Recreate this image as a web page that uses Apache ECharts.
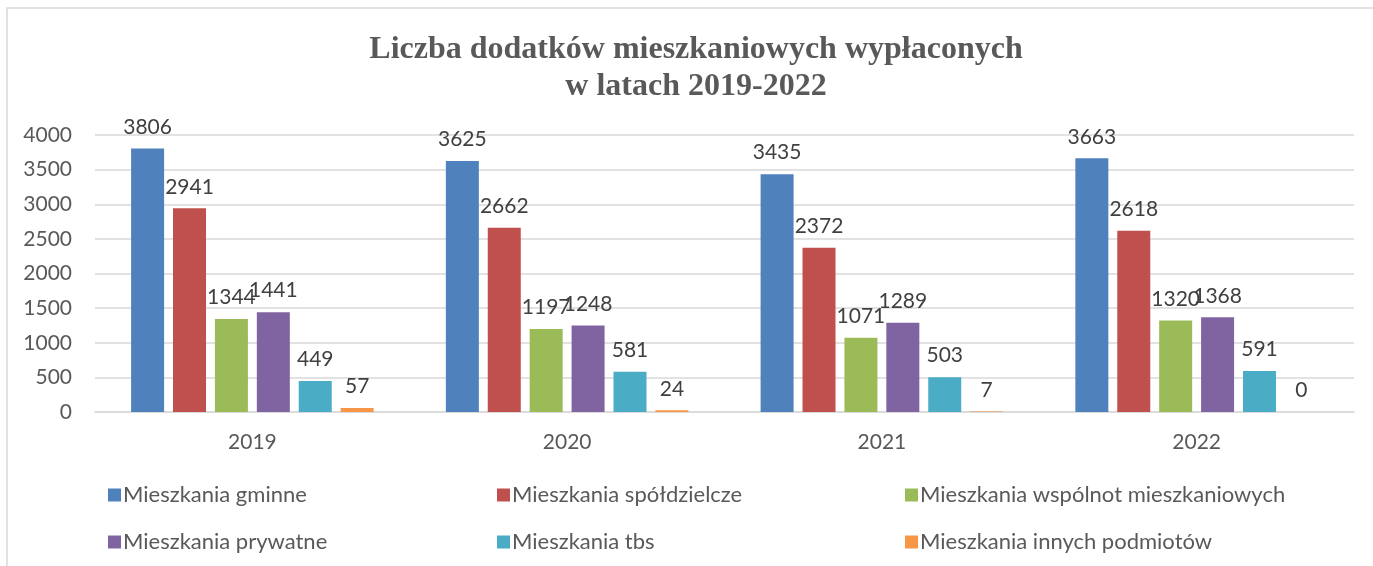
<!DOCTYPE html>
<html>
<head>
<meta charset="utf-8">
<script src="https://cdn.jsdelivr.net/npm/echarts@6/dist/echarts.min.js"></script>
<style>
html, body { margin: 0; padding: 0; background: #fff; }
#chart { width: 1373px; height: 566px; }
</style>
</head>
<body>
<div id="chart"></div>
<script>
var years = [ '2019', '2020', '2021', '2022' ];
var seriesNames = [ 'Mieszkania gminne', 'Mieszkania spółdzielcze', 'Mieszkania wspólnot mieszkaniowych',
		'Mieszkania prywatne', 'Mieszkania tbs', 'Mieszkania innych podmiotów' ];
var gminne = [ 3806, 3625, 3435, 3663 ];
var spoldzielcze = [ 2941, 2662, 2372, 2618 ];
var wspolnot = [ 1344, 1197, 1071, 1320 ];
var prywatne = [ 1441, 1248, 1289, 1368 ];
var tbs = [ 449, 581, 503, 591 ];
var innych = [ 57, 24, 7, 0 ];
var colors = [ '#4F81BD', '#C0504D', '#9BBB59', '#8064A2', '#4BACC6', '#F79646' ];

var font = 'Lato';
var values = [ gminne, spoldzielcze, wspolnot, prywatne, tbs, innych ];

var series = [];
for ( var i = 0; i < values.length; i++) {
	series.push({
		name : seriesNames[i],
		type : 'bar',
		data : values[i],
		barWidth : 33,
		barGap : '27%',
		itemStyle : {
			color : colors[i]
		},
		label : {
			show : true,
			position : 'top',
			distance : 11,
			color : '#404040',
			fontFamily : font,
			fontSize : 21
		}
	});
}

// one legend per item, laid out in 3 columns x 2 rows
var legendPos = [ [ 108, 484 ], [ 497, 484 ], [ 905, 484 ], [ 108, 531 ], [ 497, 531 ], [ 905, 531 ] ];
var legends = [];
for ( var j = 0; j < seriesNames.length; j++) {
	legends.push({
		data : [ seriesNames[j] ],
		left : legendPos[j][0],
		top : legendPos[j][1],
		padding : 0,
		icon : 'rect',
		itemWidth : 13,
		itemHeight : 13,
		itemGap : 0,
		textStyle : {
			color : '#595959',
			fontFamily : font,
			fontSize : 22,
			padding : [ 0, 0, 0, -3 ]
		}
	});
}

var chart = echarts.init(document.getElementById('chart'));
var option = {
	animation : false,
	color : colors,
	title : {
		text : 'Liczba dodatków mieszkaniowych wypłaconych\nw latach 2019-2022',
		left : 691,
		textAlign : 'center',
		top : 26,
		textStyle : {
			fontFamily : 'Liberation Serif',
			fontWeight : 'bold',
			fontSize : 32,
			color : '#595959',
			lineHeight : 37
		}
	},
	graphic : [ {
		type : 'rect',
		shape : { x : 7, y : 8, width : 1400, height : 600 },
		style : { fill : 'none', stroke : '#d9d9d9', lineWidth : 1.5 },
		silent : true
	} ],
	legend : legends,
	grid : {
		left : 95,
		right : 19,
		top : 135,
		bottom : 154
	},
	xAxis : {
		type : 'category',
		data : years,
		axisTick : { show : false },
		axisLine : { lineStyle : { color : '#d9d9d9', width : 1.5 } },
		axisLabel : {
			color : '#595959',
			fontFamily : font,
			fontSize : 21,
			margin : 20
		}
	},
	yAxis : {
		type : 'value',
		min : 0,
		max : 4000,
		interval : 500,
		axisLine : { show : false },
		axisTick : { show : false },
		splitLine : { lineStyle : { color : '#d9d9d9', width : 1.5 } },
		axisLabel : {
			color : '#595959',
			fontFamily : font,
			fontSize : 21,
			margin : 23,
			formatter : function(v) {
				return String(v);
			}
		}
	},
	series : series
};
chart.setOption(option);
window.onresize = chart.resize;
</script>
</body>
</html>
